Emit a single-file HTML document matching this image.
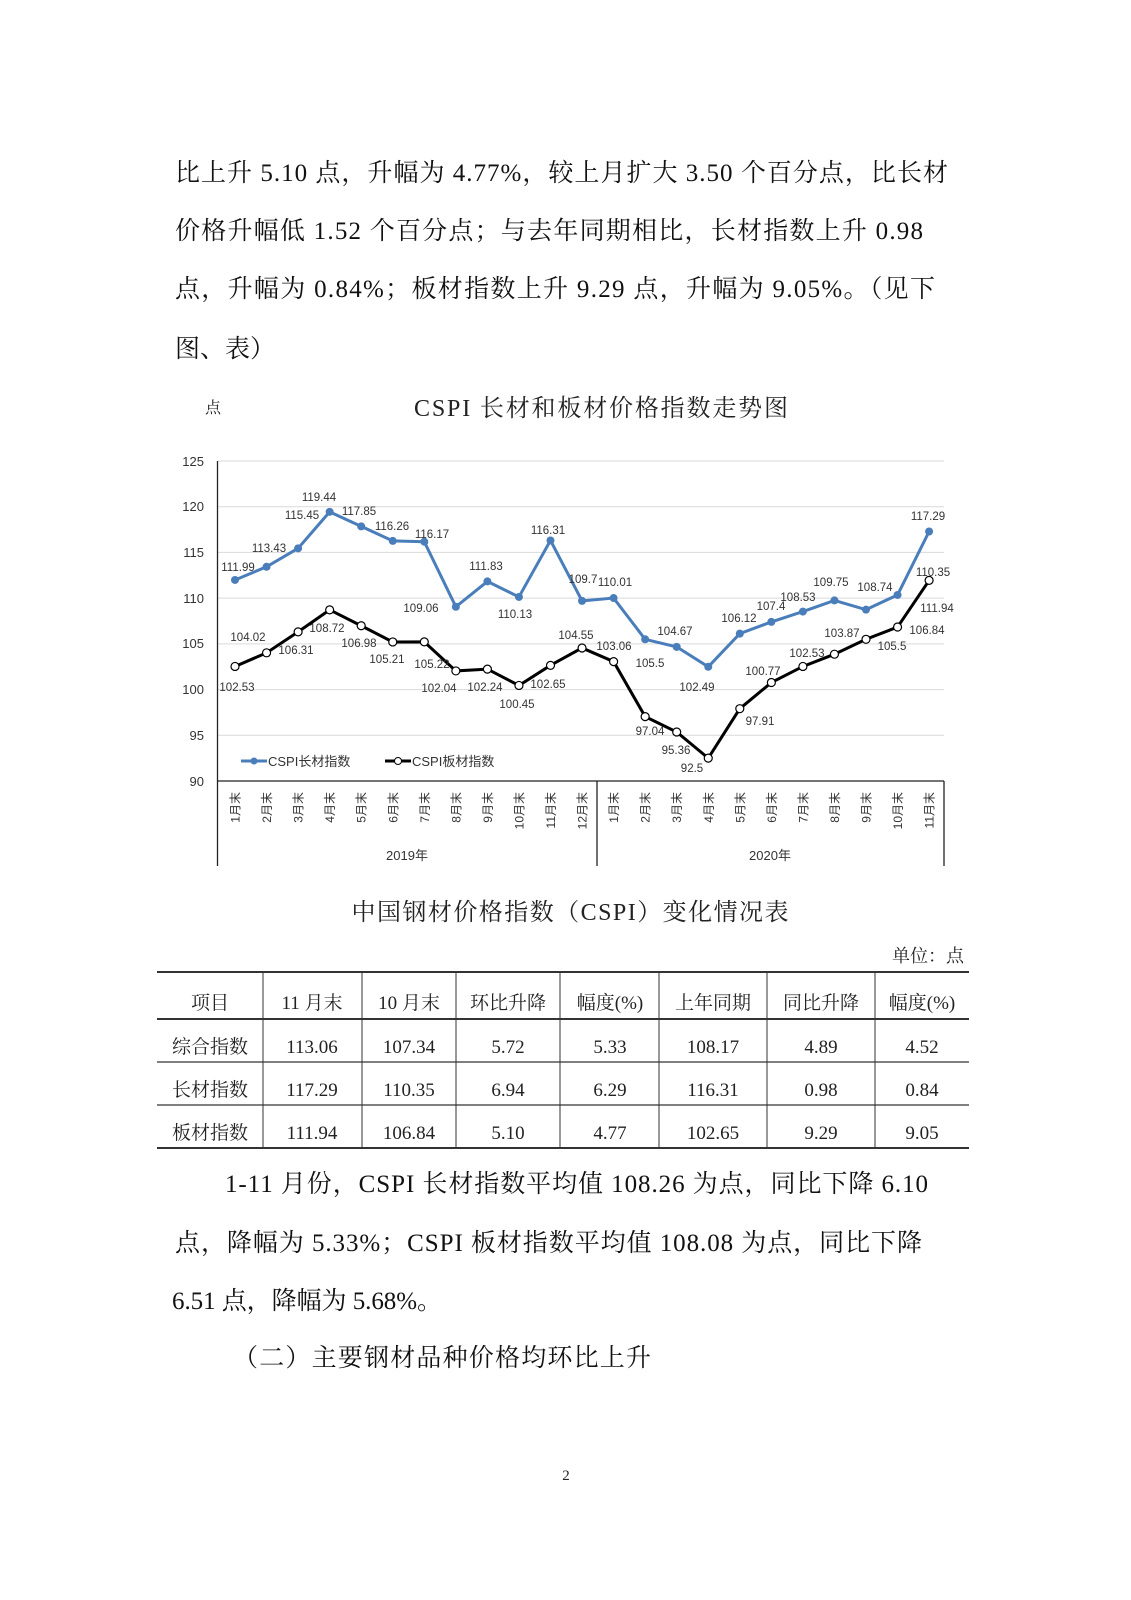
<!DOCTYPE html>
<html><head><meta charset="utf-8"><style>
html,body{margin:0;padding:0;background:#fff;}
svg{display:block;}
.b{font-family:"Liberation Serif","Noto Serif CJK SC",serif;font-size:25px;fill:#111;}
.s{font-family:"Liberation Sans","Noto Sans CJK SC",sans-serif;}
.lab{font-family:"Liberation Sans","Noto Sans CJK SC",sans-serif;font-size:11.5px;fill:#333;text-anchor:middle;}
.t{font-family:"Liberation Serif","Noto Serif CJK SC",serif;font-size:19px;fill:#222;text-anchor:middle;}
</style></head><body>
<svg width="1131" height="1600" viewBox="0 0 1131 1600" xmlns="http://www.w3.org/2000/svg">
<text class="b" x="175" y="181" textLength="773" lengthAdjust="spacing">比上升 5.10 点，升幅为 4.77%，较上月扩大 3.50 个百分点，比长材</text>
<text class="b" x="175" y="239" textLength="748" lengthAdjust="spacing">价格升幅低 1.52 个百分点；与去年同期相比，长材指数上升 0.98</text>
<text class="b" x="175" y="297" textLength="760" lengthAdjust="spacing">点，升幅为 0.84%；板材指数上升 9.29 点，升幅为 9.05%。（见下</text>
<text class="b" x="175" y="357">图、表）</text>

<text x="205" y="413" style="font-family:'Noto Serif CJK SC',serif;font-size:16px;fill:#222">点</text>
<text x="601" y="416" text-anchor="middle" style="font-family:'Liberation Serif','Noto Serif CJK SC',serif;font-size:24px;fill:#222" textLength="374" lengthAdjust="spacing">CSPI 长材和板材价格指数走势图</text>

<g stroke="#d9d9d9" stroke-width="1">
<line x1="218" y1="461" x2="944" y2="461"/><line x1="218" y1="506.7" x2="944" y2="506.7"/>
<line x1="218" y1="552.4" x2="944" y2="552.4"/><line x1="218" y1="598.1" x2="944" y2="598.1"/>
<line x1="218" y1="643.9" x2="944" y2="643.9"/><line x1="218" y1="689.6" x2="944" y2="689.6"/>
<line x1="218" y1="735.3" x2="944" y2="735.3"/>
</g>
<g stroke="#222" stroke-width="1.3">
<line x1="217.5" y1="461" x2="217.5" y2="866"/>
<line x1="217" y1="781" x2="944" y2="781"/>
<line x1="597" y1="781" x2="597" y2="866"/>
<line x1="944" y1="781" x2="944" y2="866"/>
</g>
<g class="s" font-size="13" fill="#333" text-anchor="end">
<text x="204" y="466">125</text><text x="204" y="511">120</text><text x="204" y="557">115</text>
<text x="204" y="603">110</text><text x="204" y="648">105</text><text x="204" y="694">100</text>
<text x="204" y="740">95</text><text x="204" y="786">90</text>
</g>
<g class="s" font-size="12" fill="#333" text-anchor="end" id="cats"></g>
<g class="s" font-size="13" fill="#333" text-anchor="middle">
<text x="407" y="860">2019年</text><text x="770" y="860">2020年</text>
</g>

<polyline id="pb" fill="none" stroke="#4a7ebb" stroke-width="3" points=""/>
<polyline id="pk" fill="none" stroke="#000" stroke-width="3" points=""/>
<g id="mk"></g>

<g>
<line x1="241" y1="761" x2="267" y2="761" stroke="#4a7ebb" stroke-width="3"/><circle cx="254" cy="761" r="3.5" fill="#4a7ebb"/>
<text x="268" y="766" class="s" font-size="13" fill="#333">CSPI长材指数</text>
<line x1="385" y1="761" x2="411" y2="761" stroke="#000" stroke-width="3"/><circle cx="398" cy="761" r="3.5" fill="#fff" stroke="#000"/>
<text x="412" y="766" class="s" font-size="13" fill="#333">CSPI板材指数</text>
</g>

<g class="lab">
<text x="238" y="571">111.99</text><text x="269" y="552">113.43</text><text x="302" y="519">115.45</text>
<text x="319" y="501">119.44</text><text x="359" y="515">117.85</text><text x="392" y="530">116.26</text>
<text x="432" y="538">116.17</text><text x="421" y="612">109.06</text><text x="486" y="570">111.83</text>
<text x="515" y="618">110.13</text><text x="548" y="534">116.31</text><text x="583" y="583">109.7</text>
<text x="615" y="586">110.01</text><text x="650" y="667">105.5</text><text x="675" y="635">104.67</text>
<text x="697" y="691">102.49</text><text x="739" y="622">106.12</text><text x="771" y="610">107.4</text>
<text x="798" y="601">108.53</text><text x="831" y="586">109.75</text><text x="875" y="591">108.74</text>
<text x="933" y="576">110.35</text><text x="928" y="520">117.29</text>
<text x="237" y="691">102.53</text><text x="248" y="641">104.02</text><text x="296" y="654">106.31</text>
<text x="327" y="632">108.72</text><text x="359" y="647">106.98</text><text x="387" y="663">105.21</text>
<text x="432" y="668">105.22</text><text x="439" y="692">102.04</text><text x="485" y="691">102.24</text>
<text x="517" y="708">100.45</text><text x="548" y="688">102.65</text><text x="576" y="639">104.55</text>
<text x="614" y="650">103.06</text><text x="650" y="735">97.04</text><text x="676" y="754">95.36</text>
<text x="692" y="772">92.5</text><text x="760" y="725">97.91</text><text x="763" y="675">100.77</text>
<text x="807" y="657">102.53</text><text x="842" y="637">103.87</text><text x="892" y="650">105.5</text>
<text x="927" y="634">106.84</text><text x="937" y="612">111.94</text>
</g>

<text x="570" y="920" text-anchor="middle" style="font-family:'Liberation Serif','Noto Serif CJK SC',serif;font-size:24px;fill:#222" textLength="437" lengthAdjust="spacing">中国钢材价格指数（CSPI）变化情况表</text>
<text x="964" y="962" text-anchor="end" style="font-family:'Liberation Serif','Noto Serif CJK SC',serif;font-size:18px;fill:#222">单位：点</text>

<g stroke="#333">
<line x1="157" y1="972" x2="969" y2="972" stroke-width="2"/>
<line x1="157" y1="1019" x2="969" y2="1019" stroke-width="2"/>
<line x1="157" y1="1062" x2="969" y2="1062" stroke-width="1.3"/>
<line x1="157" y1="1105" x2="969" y2="1105" stroke-width="1.3"/>
<line x1="157" y1="1148" x2="969" y2="1148" stroke-width="2"/>
<g stroke-width="1"><line x1="263" y1="972" x2="263" y2="1148"/><line x1="362" y1="972" x2="362" y2="1148"/>
<line x1="456" y1="972" x2="456" y2="1148"/><line x1="560" y1="972" x2="560" y2="1148"/>
<line x1="659" y1="972" x2="659" y2="1148"/><line x1="767" y1="972" x2="767" y2="1148"/>
<line x1="875" y1="972" x2="875" y2="1148"/></g>
</g>
<g class="t">
<text x="210" y="1009">项目</text><text x="312" y="1009">11 月末</text><text x="409" y="1009">10 月末</text>
<text x="508" y="1009">环比升降</text><text x="610" y="1009">幅度(%)</text><text x="713" y="1009">上年同期</text>
<text x="821" y="1009">同比升降</text><text x="922" y="1009">幅度(%)</text>
<text x="210" y="1053">综合指数</text><text x="312" y="1053">113.06</text><text x="409" y="1053">107.34</text>
<text x="508" y="1053">5.72</text><text x="610" y="1053">5.33</text><text x="713" y="1053">108.17</text>
<text x="821" y="1053">4.89</text><text x="922" y="1053">4.52</text>
<text x="210" y="1096">长材指数</text><text x="312" y="1096">117.29</text><text x="409" y="1096">110.35</text>
<text x="508" y="1096">6.94</text><text x="610" y="1096">6.29</text><text x="713" y="1096">116.31</text>
<text x="821" y="1096">0.98</text><text x="922" y="1096">0.84</text>
<text x="210" y="1139">板材指数</text><text x="312" y="1139">111.94</text><text x="409" y="1139">106.84</text>
<text x="508" y="1139">5.10</text><text x="610" y="1139">4.77</text><text x="713" y="1139">102.65</text>
<text x="821" y="1139">9.29</text><text x="922" y="1139">9.05</text>
</g>

<text class="b" x="225" y="1192" textLength="703" lengthAdjust="spacing">1-11 月份，CSPI 长材指数平均值 108.26 为点，同比下降 6.10</text>
<text class="b" x="175" y="1251" textLength="747" lengthAdjust="spacing">点，降幅为 5.33%；CSPI 板材指数平均值 108.08 为点，同比下降</text>
<text class="b" x="172" y="1309" textLength="270" lengthAdjust="spacing">6.51 点，降幅为 5.68%。</text>
<text class="b" x="233" y="1366" textLength="418" lengthAdjust="spacing">（二）主要钢材品种价格均环比上升</text>

<text x="566" y="1480" text-anchor="middle" style="font-family:'Liberation Serif',serif;font-size:15px;fill:#222">2</text>
</svg>
<script>
var B=[111.99,113.43,115.45,119.44,117.85,116.26,116.17,109.06,111.83,110.13,116.31,109.7,110.01,105.5,104.67,102.49,106.12,107.4,108.53,109.75,108.74,110.35,117.29];
var K=[102.53,104.02,106.31,108.72,106.98,105.21,105.22,102.04,102.24,100.45,102.65,104.55,103.06,97.04,95.36,92.5,97.91,100.77,102.53,103.87,105.5,106.84,111.94];
function X(i){return 235+i*31.55;}function Y(v){return 461+(125-v)*9.143;}
var ns="http://www.w3.org/2000/svg";
document.getElementById('pb').setAttribute('points',B.map(function(v,i){return X(i)+','+Y(v)}).join(' '));
document.getElementById('pk').setAttribute('points',K.map(function(v,i){return X(i)+','+Y(v)}).join(' '));
var mk=document.getElementById('mk'),cats=document.getElementById('cats');
for(var i=0;i<23;i++){
 var c=document.createElementNS(ns,'circle');c.setAttribute('cx',X(i));c.setAttribute('cy',Y(B[i]));c.setAttribute('r',4);c.setAttribute('fill','#4a7ebb');mk.appendChild(c);
 c=document.createElementNS(ns,'circle');c.setAttribute('cx',X(i));c.setAttribute('cy',Y(K[i]));c.setAttribute('r',4);c.setAttribute('fill','#fff');c.setAttribute('stroke','#000');c.setAttribute('stroke-width','1.2');mk.appendChild(c);
 var m=i<12?i+1:i-11;
 var t=document.createElementNS(ns,'text');t.setAttribute('transform','translate('+(X(i)+4.5)+',792) rotate(-90)');t.textContent=m+'月末';cats.appendChild(t);
}
</script>
</body></html>
